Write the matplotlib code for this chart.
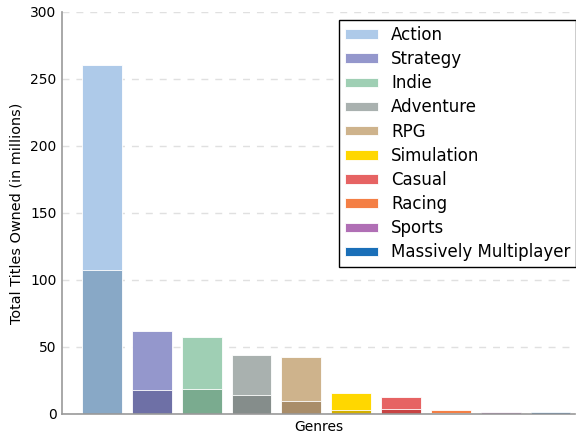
import matplotlib
matplotlib.use("Agg")
import matplotlib.pyplot as plt
import numpy as np

genres = ["Action", "Strategy", "Indie", "Adventure", "RPG", "Simulation",
          "Casual", "Racing", "Sports", "Massively Multiplayer"]
total_owned = [260.5, 62, 57.5, 44, 42.5, 15.7, 12.7, 3.0, 1.6, 1.3]
played_owned = [107.5, 18, 18.7, 14, 9.7, 3.0, 4.0, 1.0, 0.3, 0.2]
colors = ["#aecae9", "#9497cc", "#9fcfb4", "#a9b1af", "#ceb38c",
          "#ffd700", "#e66363", "#f47f45", "#b06fb5", "#1a6fb8"]
dark_colors = ["#88a8c6", "#6e70a6", "#7aab8f", "#858d8b", "#a98d69",
               "#d4b000", "#c84444", "#cc6030", "#8e5092", "#14589a"]

plt.rcParams['font.family'] = ['DejaVu Sans']

fig = plt.figure(figsize=(5.76, 4.36), dpi=100)
ax = fig.add_axes([0.108, 0.0505, 0.891, 0.922])

x = np.arange(len(genres))
# 上半部分：拥有总数
for i in range(len(genres)):
    ax.bar(x[i], total_owned[i], width=0.8, color=colors[i], edgecolor="white",
           linewidth=0.6, label=genres[i], zorder=2)
# 下半部分：较深的叠加层
for i in range(len(genres)):
    ax.bar(x[i], played_owned[i], width=0.8, color=dark_colors[i], edgecolor="white",
           linewidth=0.6, zorder=3)

ax.set_xlim(-0.8, 9.5)
ax.set_ylim(0, 300)
ax.set_yticks(range(0, 301, 50))
ax.set_xticks([])
ax.tick_params(axis="y", length=0, labelsize=10, pad=4)
ax.yaxis.grid(True, linestyle=(0, (5, 5)), color="#e0e0e0", linewidth=1, zorder=0)
ax.set_axisbelow(True)
for s in ["top", "right"]:
    ax.spines[s].set_visible(False)
for s in ["left", "bottom"]:
    ax.spines[s].set_color("#999999")
    ax.spines[s].set_linewidth(1.2)
    ax.spines[s].set_zorder(5)

ax.set_xlabel("Genres", fontsize=10, labelpad=4)
ax.set_ylabel("Total Titles Owned (in millions)", fontsize=10.4, labelpad=5)

leg = ax.legend(loc="upper right", bbox_to_anchor=(1.002, 0.980), fontsize=12,
                fancybox=False, framealpha=1, edgecolor="black", borderaxespad=0,
                handlelength=2.0, handleheight=0.5, labelspacing=0.37,
                borderpad=0.35, handletextpad=0.8)
leg.get_frame().set_linewidth(1.0)

fig.savefig("out.png", dpi=100)
